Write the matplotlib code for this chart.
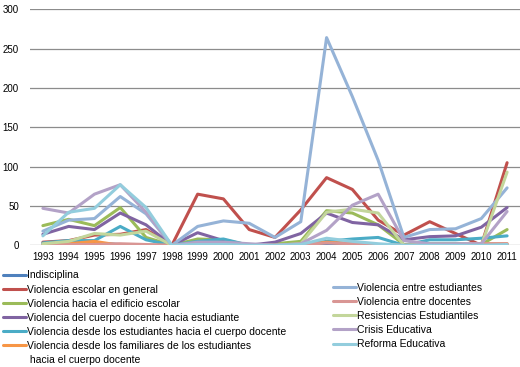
import matplotlib.pyplot as plt
from matplotlib.lines import Line2D

plt.rcParams['font.family'] = ['Liberation Sans', 'DejaVu Sans']

years = [str(y) for y in range(1993, 2012)]

# one list per series (1993..2011)
indisciplina = [2, 3, 3, 1, 0, 0, 0, 0, 0, 0, 0, 1, 0, 0, 0, 0, 0, 0, 0]
escolar_general = [4, 6, 13, 14, 20, 0, 65, 59, 20, 10, 45, 86, 71, 32, 13, 30, 15, 0, 105]
edificio = [25, 33, 25, 48, 10, 0, 8, 7, 0, 2, 5, 44, 41, 26, 1, 2, 2, 1, 20]
docente_estudiante = [14, 24, 20, 41, 26, 0, 16, 6, 0, 4, 15, 41, 29, 26, 7, 11, 12, 23, 48]
estudiantes_docente = [3, 6, 6, 24, 7, 0, 5, 8, 0, 0, 1, 5, 8, 10, 0, 7, 7, 9, 12]
familiares_docente = [0, 2, 5, 0, 0, 0, 0, 0, 0, 0, 0, 4, 2, 0, 0, 0, 0, 2, 2]
entre_estudiantes = [18, 32, 34, 62, 40, 0, 24, 31, 28, 10, 30, 264, 189, 108, 10, 20, 21, 34, 73]
entre_docentes = [0, 1, 1, 2, 1, 0, 1, 1, 1, 0, 1, 3, 2, 1, 0, 1, 1, 2, 2]
resistencias = [2, 5, 15, 13, 18, 0, 2, 3, 0, 0, 2, 42, 46, 41, 0, 1, 1, 0, 93]
crisis = [47, 41, 65, 77, 42, 0, 4, 4, 2, 0, 2, 19, 51, 65, 6, 2, 2, 2, 43]
reforma = [12, 42, 47, 77, 48, 0, 1, 1, 0, 0, 1, 9, 5, 2, 0, 0, 0, 0, 1]

series = [
    ("Indisciplina", indisciplina, "#4F81BD"),
    ("Violencia escolar en general", escolar_general, "#C0504D"),
    ("Violencia hacia el edificio escolar", edificio, "#9BBB59"),
    ("Violencia del cuerpo docente hacia estudiante", docente_estudiante, "#8064A2"),
    ("Violencia desde los estudiantes hacia el cuerpo docente", estudiantes_docente, "#4BACC6"),
    ("Violencia desde los familiares de los estudiantes", familiares_docente, "#F79646"),
    ("Violencia entre estudiantes", entre_estudiantes, "#95B3D7"),
    ("Violencia entre docentes", entre_docentes, "#D99694"),
    ("Resistencias Estudiantiles", resistencias, "#C3D69B"),
    ("Crisis Educativa", crisis, "#B3A2C7"),
    ("Reforma Educativa", reforma, "#93CDDD"),
]

fig = plt.figure(figsize=(5.2, 3.67), dpi=100)
ax = fig.add_axes([30 / 520, 1 - 245.3 / 367, 490 / 520, 236 / 367])

handles = []
for name, vals, color in series:
    h, = ax.plot(range(len(years)), vals, color=color, lw=2.2,
                 solid_joinstyle='round', solid_capstyle='round', label=name)
    handles.append(h)

ax.set_xlim(-0.5, len(years) - 0.5)
ax.set_ylim(0, 300)
ax.set_yticks(range(0, 301, 50))
ax.set_xticks(range(len(years)))
ax.set_xticklabels(years)
ax.tick_params(axis='both', length=0, labelsize=7, colors='black')
ax.tick_params(axis='y', pad=8)
ax.tick_params(axis='x', pad=5)
ax.yaxis.grid(True, color='#8c8c8c', lw=0.9)
ax.set_axisbelow(True)
for s in ax.spines.values():
    s.set_visible(False)

leg_kw = dict(frameon=False, fontsize=7.45, handlelength=2.2, handletextpad=0.1,
              borderpad=0, borderaxespad=0, labelspacing=0.39, loc='upper left')

blank = Line2D([], [], color='none')
left = fig.legend(handles[:6] + [blank],
                  [h.get_label() for h in handles[:6]] + [" hacia el cuerpo docente"],
                  bbox_to_anchor=(3 / 520, 1 - 270.5 / 367), **leg_kw)
right = fig.legend(handles[6:], [h.get_label() for h in handles[6:]],
                   bbox_to_anchor=(333 / 520, 1 - 283 / 367), **leg_kw)

fig.savefig('out.png', dpi=100)
